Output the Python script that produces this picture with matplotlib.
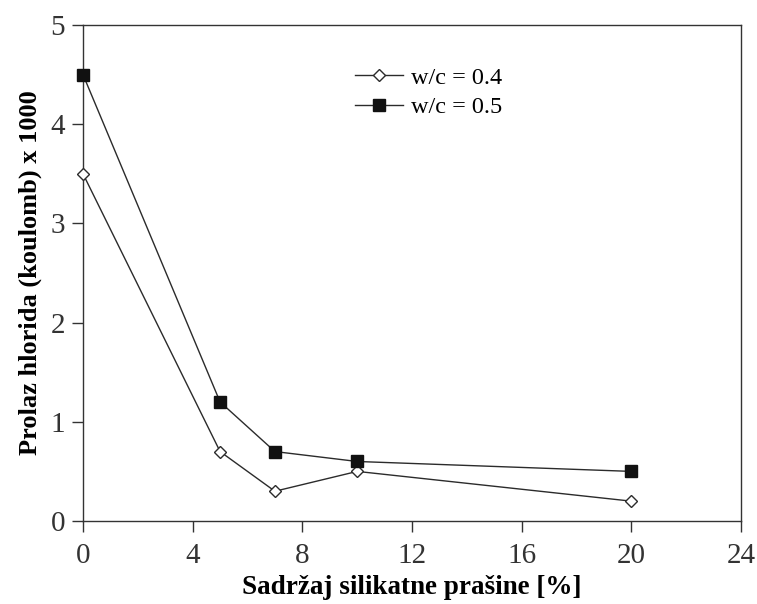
import matplotlib
matplotlib.use("Agg")
import matplotlib.pyplot as plt

# Silica fume content [%] and chloride passage (coulomb x 1000)
silica_pct = [0, 5, 7, 10, 20]
wc_04 = [3.5, 0.7, 0.3, 0.5, 0.2]
wc_05 = [4.5, 1.2, 0.7, 0.6, 0.5]
x_ticks = [0, 4, 8, 12, 16, 20, 24]
y_ticks = [0, 1, 2, 3, 4, 5]

plt.rcParams['font.family'] = ['Liberation Serif', 'DejaVu Serif']

fig = plt.figure(figsize=(7.57, 6.04), dpi=100)
ax = fig.add_axes([83 / 757, 1 - 521 / 604, (741 - 83) / 757, (521 - 25) / 604])

line_col = '#2b2b2b'
ax.plot(silica_pct, wc_04, color=line_col, lw=1.0, marker='D', ms=6.6,
        mfc='white', mec=line_col, mew=1.0, label='w/c = 0.4', clip_on=False, zorder=3)
ax.plot(silica_pct, wc_05, color=line_col, lw=1.0, marker='s', ms=9.0,
        mfc='#111111', mec='#111111', label='w/c = 0.5', clip_on=False, zorder=3)

ax.set_xlim(0, 24)
ax.set_ylim(0, 5)
ax.set_xticks(x_ticks)
ax.set_yticks(y_ticks)
ax.tick_params(direction='out', length=8, width=1.0, labelsize=21, color='#333333',
               labelcolor='#333333')
ax.tick_params(axis='x', pad=8)
ax.tick_params(axis='y', pad=5)
for s in ax.spines.values():
    s.set_linewidth(1.0)
    s.set_color('#333333')

ax.set_xlabel('Sadržaj silikatne prašine [%]', fontsize=19.5, fontweight='bold', labelpad=4)
ax.set_ylabel('Prolaz hlorida (koulomb) x 1000', fontsize=19, fontweight='bold', labelpad=6)

ax.legend(loc='upper left', bbox_to_anchor=(0.398, 0.935), frameon=False, fontsize=17.5,
          handlelength=2.0, handletextpad=0.3, labelspacing=0.3, borderaxespad=0)

fig.savefig('out.png', dpi=100)
